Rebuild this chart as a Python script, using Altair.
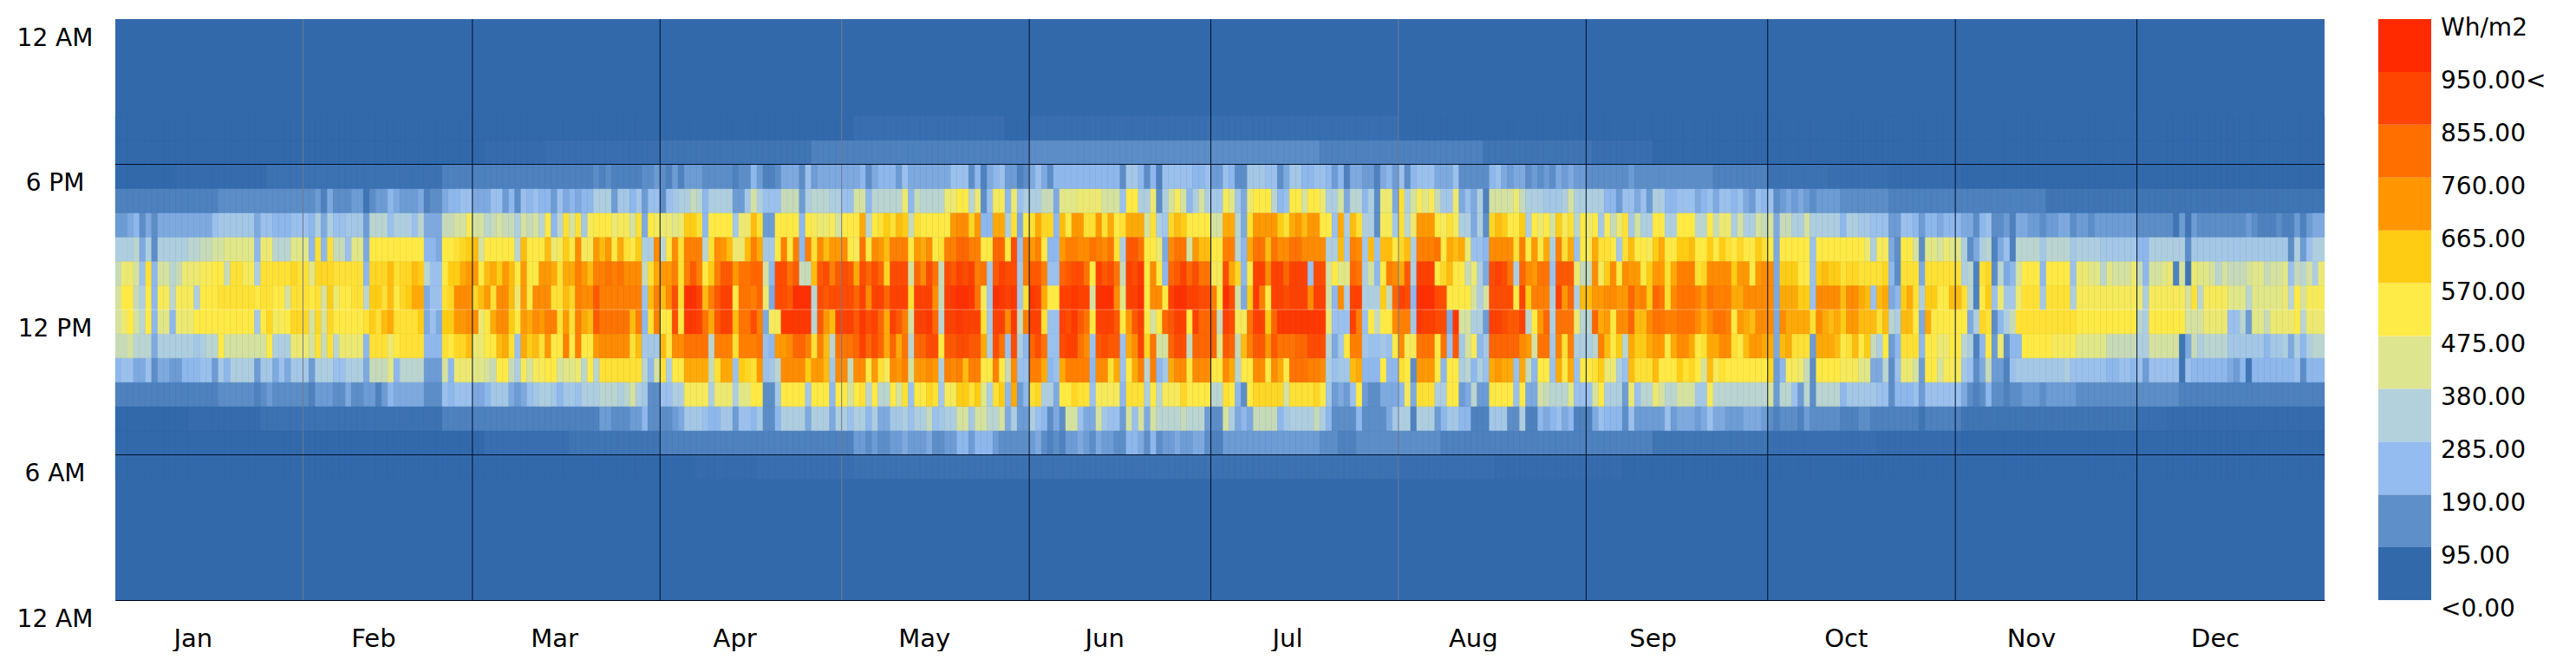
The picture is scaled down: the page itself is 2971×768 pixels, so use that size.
import json
import altair as alt
import pandas as pd

# Irradiance rows, one day per character, six runs of days
# (61, 61, 61, 61, 61, 60). Each character is a base-36 reading in steps of 30 Wh/m2;
# . : - are the faint readings below the first step.
STEP = 30
FAINT = {".": 8, ":": 15, "-": 22}
RUNS = [61, 61, 61, 61, 61, 60]

h19 = ["0"*61, "0"*61, ":"*25+"0"*4+":"*32, ":"*29+"0"*32, "0"*61, "0"*60]
h18 = ["0"*61, "."*10+":"*19+"1"*25+"2"*7, "2"*29+"3"*32, "3"*16+"2"*27+"1"*18, ":"*10+"0"*51, "0"*60]
h17 = ["0"*10+"."*15+"-"*29+"2"*7,
 "2"*18+"3 2 3 22222 33 4 3 2 4 2 4 44 333 33 2 33 6 4 2 2 3 555 3 7 4 5555 55",
 "5 6 3 5 666 4 7 5555 55 5 777 3 6 2 5 6 7 44 2 3 5 7 5 3 6 6666666 666 3 88 6 3 6 2 77777 66 7 44",
 "7 6 33 888 77 3 5 88 66 77 6 4 6 2 55 44 2 5 6 4 7 3 6 777 555 7 33333 6 7 5 4 55 3 4 3 4 3 5 4 5 44 3",
 "333333 4 3333333333333 222222222 "+"-"*10+":"*10+"."*12, "0"*60]
h16 = ["2"*17+"333333333 3333333 4 2 5 333 44 1 3 44 6 5 444 5 2 33 5 66 77 55",
 "5 77 4 6 3 7 6 7 66 4 7 5 6 5 66 999 4 88 6 8 4 77 3 7 8 9 9 b a 6 9999 44 8 c 9 777 bbb 4 9 aa a 99 77",
 "cc 6 aaaaa e 6 b aaaa ee gg a e 3 7 ff 6 e 7 9 99 bb 5 ddd eeee ccc 7 gg 99 e 3 9 c f c 6 9 c 9 88",
 "f d 8 5 e ggg a 6 7 gg c gg e 99 c 5 aa 6 9 3 e e 5 h 9 c f d f b 88 e 5 7 5 9 2 cccc e b 999 888 9 c 99 9",
 "99 66 4 77 5 7 4 99 66 777 5 6 7 5 77 6 7 5 4 7 6 7 3 4 5 4 5 4 3 4444 3 33 33 3 33 "+"2"*12,
 "2"*14+"1"*46]
h15 = ["44 5 6 3 5 3 555555555 7888888 5 77 666 777 6 9 5 9 77 888 4 aaa 7 999 7 a 55 5 bb cc f cc",
 "a b c bb 9 c b c a g 6 a h c h 8 f ggg e ff c h 5 g f ee d e j j h 6 gggg 8 ee k h 44 g ggg 6 g f ee f c gg",
 "g l a g h j h k j b h ggggg m nn i m 66 ll 9 h 5 g h l i i 6 k g mm hh m h l g h l ll c h 9 8 i k j gg g g cc",
 "l l a 5 h mmmm j h l m k mm gg 7 l 9 k h 99 3 ff 8 h a e mmm g f h f 99 5 9 3 i k j gg j 9 g e g c j f h a g e",
 "g 8 f b e h 8 c 99 gg 99 ggg aa g b ee 9 c 99 c b c 5 bb 99 c 99999 6 99 88 777 44 77 6 4 66 5 666",
 "5 5 3 6 7 33 4 2 55 44 3 4455 3 44 3 4 44444 4 333333 1 4 1 4 3333 3 333 4 3 222 3 22 4 2 4 55"]
h14 = ["999a 5 9 3 99999 aabb ccddddd 6 ee aaa ddd 6 h 6 h bb 7 dd 5 gggg ggggg 66 5 ggh i j k c",
 "ggggg a k ggg k e f j g n ff m k m g l h g j 99 n a g n h ooo a h n m k e e k o l 8 8 g o g o 6 o h n k mm n g",
 "f p g n m k ooo g m l n g h oo qq oo gg qq g s 7 o m o g 66 m oo nn p o n p h 9 rr p gg e 5 n pp c m kk gg",
 "oo a 6 l pp k p nn pp nnnn 99 k 8 o n 8 k 7 kk g i k 9 ooo p g l k l e 77 6 nnnn h o g m g l 9 o h l 7 gf",
 "l hh g 8 h k gg f j l gg jj k gg j g j h g i gg j h g 5 ggggg 7 gggg gggg e 9 ff 5 3 gg c 3 dd c e dd",
 "9 3 5 9 a 2 5 7 2 aa aa 8 aaaa 8 9999 888888 66 99999 9 3 8 888 888 88 888 88 8 8 3 9 4 7 99"]
h13 = ["bee c 7 h 6 cc a b e ee ff gg b hh ff 9 hhhh hih h d iii hhhhh 6 iii k h ii k j a 77 g j j lm m g",
 "k l j m k g m gg mm l h ll o m k oo p o p nnn b h l mm o h o r o g j o rr m pp qq c 6 ss p r bb k r s o r s r",
 "l s q s q i sss c q n s p b s r t s t o p 8 r t ss 8 o rr o 77 q r ss p g t r s p b t s u g n g 6 q r t q s pp ff",
 "s l i 6 g tt n tt q ttt 7 ss c g dd q p 9 c 6 g o n l r 9 ttt g i k gg b e 9 5 s t s p 9 q n m pp 7 rrr e bb",
 "n f j n g n mm g j mm h l ooo h i nnnn j mm g m nn 5 jjj gg 7 j k j j h ii h hh h i 6 3 hhh 5 hhhhhh",
 "9 a 2 h i 3 a 5 6 c ggg 6 gggg 7 ee dd a d ccc e b 6 cc d e 2 c 1 e dd c a c bbb c dd b cc d 7 b a c 9 e"]
h12 = ["cgg b 9 g 6 ff a fff 9 ggg hh hhhh g hh gg c hhh g h c j e gg hh a jj h k g ij ll 5 77 h i nnn i k",
 "m h nn k e m g nnn h h k i o nn r ooooooo 7 k o k n s h vv t k o r tt g pp o q e 5 ss r vvv a s r ss ss",
 "q t n tt q ttt h ttt n b t u vv u p f 8 v u t u 8 h u t l gg t t u tt c vvv n d tt v g nn g t vv t t ss o g",
 "v s c 5 j u o g tt s ttt n tt c 6 n 9 tt 999 j b q t s 6 vvv ss gggg c 9 c s sss g t j ooo 9 t m q 9 kk",
 "m m nn mm q n o j q p h n ppp o m p ooo ll nnn n n 5 lll jj 7 nnnn k nn l k 7 k l 5 6 j l h 9 jj gg kk",
 "h a 2 g j 7 e 88 e hhh 8 hhhh 9 ffffffffff e 9 fffff f c h a fff f ddd a ddddd e a g c fff"]
h11 = ["ceg c a g 6 dd 6 eee gggggggggg 8 g i ff g iii c i c i ggggg h j h k l hhhh j 5 7 5 jj mm nn e",
 "g l nn j g m l n m oo h m h o l k r pp ppp k o 6 h o gg s g uu t p l r tt k pp s o 5 ff uuuuu a r m k ttt",
 "r u s t q l t r o c tt u q a tt u ttt h 8 tt n u b o tt h 77 t s u r p g ttt r g m r t g c g q r tt g t qqq b",
 "t s ff p tt j q uuuuuuu u e 777 t o 7 g b gg n oo 8 u tt ss 5 u cc 9 9 4 tt s rr t a g m q 9 ppp e aa",
 "q l m g nn q kk n pp oo ppp n l n pp o g m l k nn n 5 n llll h n l k l j mm kkk h k a 9 kk g 5 l ggggg",
 "g 5 9 i h 3 6 9 b hhhh hhhhhh gggggggggg a 9 gggggg ccc eee e 77 a 4 dd b eee e g a eee"]
h10 = ["bbcaaa5 999999 89a a g ccccccc g 999 eee c h b h a eeee 6 hhh e g hhhh 666 h g ii k ee",
 "gg k l h 7 l j k h m gg o g o gg m nnnnn h k 888 k g nn pppp a ooo h ooo p 7 6 mm n qq o h o k a ppp",
 "q t q s q l q l p a qq ss g rr ss rr l 9 s p 7 s 9 6 q s p 77 s tt p n 7 r s rr 7 l n t i p cc q ss b qqqq d",
 "r q b k o rr m r ppp qq sss a 5 8 g oo 8 77 8 7 g n ff ppp g p 7 r 8 c f 6 8 qqqqq n m c pp 8 o h o 99 9",
 "a o k g j a l jj l mm g l nn l g h ll nn h g k mm l l 5 k l hhh 4 lll k g h k g j b 9 g 4 6 hhh 6 gg ee gg",
 "a 9 2 6 g 4 e 3 6 6 ggggg ffff ddddd bbbbb 99 ccccc 1 5 b 9 aaa a 888 8 88 6 8 8 9 5 9 6 9 aa"]
h09 = ["6 77 55 7 3 55 44 666 77 4 8 6 9999 4 88 5 7 5 888 4 999 77 999 5 bbb d 6 aaaa 444 c 6 eee dd",
 "c b gg b 9 f c ff gg c dd e a g a hhhhhhh a 6 c h 9 gg llll b h ll 7 j i h m 7 8 a nnnn j mm k 8 nn b",
 "nn g m h f n m o c mm n m 9 o n o k oo gg o g b n 77 oo l 6 7 l oooo 6 nn h l 7 g l o a o 6 8 l nn g nnn gg",
 "n l a gg nn g n l g ppp oo n 9 7 88 k l 666 g 66 h g 3 mmm g 6 gg 9 a 6 9 7 l m ll 7 l b 6 gg 7 l g l 7 gg",
 "hj ee 9 7 k hhh k ggg j h i g c k f h ggg gg gg i 4 6 ff e b 3 gggg f ff dd 55 a 3 7 ee c 4 gg c fff",
 "8 7 3 5 b 44 2 7 888888 88 9 77777 7 66 7 7 6 7 4 7777 7 1 7 6 6666 6 5 4 6 1 6666 666 7 3 666"]
h08 = ["2"*17+"333333 2 3 4 333333 2 444 33 5 33 44 2 4 6 5555 5 333 7 6 777 55",
 "6 888 5 4 5 7 8 99 8 6 88 7 99 9 aa a 9 a c 9 8 33 77 99 ffff 9 eee 9 dd gg 3 3 8 gggg 8 ggg 6 gg c",
 "g h a g aa g c h 7 gg i h 8 ff j j h j d 9 h j 6 l 4 6 h i 99 5 gg i hh 7 ffff 6 hhh 9 g a fff i gggg aa",
 "h g 6 3 g iiiii c hhhh i g 8 4 5 4 7 g 4 33 555 6 f 5 hhh 99 gg 4 5 a 44 gggg 7 g 55 c b aaa d 77 7",
 "c g 999 4 e 7 aa e c aa cc c 88 f a aaaaaaaa c 4 aa 7 4 a 3 aaaa 6 88888 77 3 666 7 4 777 777",
 "5 3 2 3 6 3 3 2 3 3 444 3 44444 "+"3"*17+"2"*24]
h07 = ["0"*12+"."*12+"-"*30+"2"*7,
 "2"*19+"44 333 44 6 33 33 4 5 888 7 66 88 4 77 6 8 33 6 9999 5 999 5 99 7",
 "99 6 9 55 88 9 7 99 b 7 8 99 cc 8 cc aa c 5 9 44 9 7 6 3 5 3 cc 7 5 5 c 8 77 4 c 7 c 5 c aaaa b aaa 4 33",
 "c 9 5 6 5 bbbb 6 8 99 99 b 9 6 3333 6 3333 5 8 9 9 2 999 4 6 88 66 222 888 33 9 22 6 5 6 7 5 6 22 2",
 "5 7 666 3 7 4 4 444 7 4 5 55 4 5 7 55 4 44 55 5 4 3 2 3 33 2 4 3 3333 222 33 222 22222 1 222222",
 "1"*29+":"*5+"."*26]
h06 = ["0"*61, ":"*14+"1"*15+"2"*32,
 "44 3 4 33 44 5 444 5 33 44 66 4 666 4 3 33 33 4 5 3 2 3 2 44 5 4 3 5 44 33 66 5 3 6 3 44 5 44 55 3 22",
 "4"*16+"3"*3+"2"*3+"3"*14+"2"*25, "2"*10+"1"*19+":"*18+"."*14, "0"*60]
h05 = ["0"*61, "0"*35+"."*10+":"*16, "-"*61, "-"*29+":"*16+"."*16, "."*5+"0"*56, "0"*60]

rows = {5: h05, 6: h06, 7: h07, 8: h08, 9: h09, 10: h10, 11: h11, 12: h12,
        13: h13, 14: h14, 15: h15, 16: h16, 17: h17, 18: h18, 19: h19}

records = []
for hour, segments in rows.items():
    day = 0
    for seg, n in zip(segments, RUNS):
        s = seg.replace(" ", "")
        s = (s + s[-1] * n)[:n]
        for i, ch in enumerate(s):
            value = FAINT[ch] if ch in FAINT else int(ch, 36) * STEP
            records.append({"d": day + i, "d2": day + i + 1, "h": hour, "h2": hour + 1, "v": value})
        day += n
cells = pd.DataFrame(records)

legend_stops = [0, 95, 190, 285, 380, 475, 570, 665, 760, 855, 950]
legend_colors = ["#3269AB", "#5F8FC8", "#94BCF0", "#B3D1DC", "#DEE58F", "#FFEB47",
                 "#FFCC14", "#FF9500", "#FF6F00", "#FF4500", "#FF2A00"]
legend_labels = ["<0.00", "95.00", "190.00", "285.00", "380.00", "475.00", "570.00",
                 "665.00", "760.00", "855.00", "950.00<", "Wh/m2"]

month_names = ["Jan", "Feb", "Mar", "Apr", "May", "Jun", "Jul", "Aug", "Sep", "Oct", "Nov", "Dec"]
month_label_days = [12.8, 42.6, 72.5, 102.3, 133.6, 163.4, 193.6, 224.3, 254.0, 285.9, 316.5, 346.9]
dark_month_edges = [59, 90, 151, 181, 243, 273, 304, 334]
faint_month_edges = [31, 120, 212]
hour_ticks = [0, 6, 12, 18, 24]
hour_labels = ["12 AM", "6 AM", "12 PM", "6 PM", "12 AM"]
dark_hour_lines = [6, 18]
faint_hour_lines = [12]

FONT = "DejaVu Sans"
color_scale = alt.Scale(domain=legend_stops, range=legend_colors, clamp=True, interpolate="rgb")
x_scale = alt.Scale(domain=[0, 365], nice=False, zero=False)
y_scale = alt.Scale(domain=[0, 24], nice=False, zero=True)

x_axis = alt.Axis(values=month_label_days, title=None, grid=False, ticks=False, labelFont=FONT,
                  labelFontSize=29, labelColor="#000", labelBaseline="middle", labelPadding=44,
                  labelOverlap=False, labelBound=False, labelFlush=False,
                  domainColor="#000020", domainWidth=1,
                  labelExpr=f"{json.dumps(month_names)}[indexof({json.dumps(month_label_days)}, datum.value)]")
y_axis = alt.Axis(values=hour_ticks, title=None, grid=False, ticks=False, labelFont=FONT,
                  labelFontSize=28, labelColor="#000", labelAlign="center", labelBaseline="middle",
                  labelPadding=70, labelOffset=22, labelOverlap=False, labelBound=False, labelFlush=False,
                  domainColor="#000020", domainWidth=1,
                  labelExpr=f"{json.dumps(hour_labels)}[indexof({json.dumps(hour_ticks)}, datum.value)]")

base_bg = alt.Chart(pd.DataFrame({"d": [0], "d2": [365], "h": [0], "h2": [24], "v": [0]})).mark_rect().encode(
    x=alt.X("d:Q", scale=x_scale, axis=x_axis),
    x2="d2:Q",
    y=alt.Y("h:Q", scale=y_scale, axis=y_axis),
    y2="h2:Q",
    color=alt.Color("v:Q", scale=color_scale, legend=None),
)
heat = alt.Chart(cells).mark_rect(strokeWidth=0.4).encode(
    x=alt.X("d:Q", scale=x_scale),
    x2="d2:Q",
    y=alt.Y("h:Q", scale=y_scale),
    y2="h2:Q",
    color=alt.Color("v:Q", scale=color_scale, legend=None),
    stroke=alt.Stroke("v:Q", scale=color_scale, legend=None),
)

def vrules(days, color):
    return alt.Chart(pd.DataFrame({"d": days})).mark_rule(color=color, strokeWidth=1).encode(
        x=alt.X("d:Q", scale=x_scale))

def hrules(hours, color, opacity=1.0):
    return alt.Chart(pd.DataFrame({"h": hours})).mark_rule(color=color, strokeWidth=1, opacity=opacity).encode(
        y=alt.Y("h:Q", scale=y_scale))

main = alt.layer(
    base_bg, heat,
    hrules(faint_hour_lines, "#ffffff", 0.35),
    vrules(faint_month_edges, "#6f7a90"),
    vrules(dark_month_edges, "#00102a"),
    hrules(dark_hour_lines, "#00102a"),
).properties(width=2548, height=670)

leg_scale = alt.Scale(domain=[0, 11], nice=False, zero=True)
leg_rects = pd.DataFrame({"i": list(range(11)), "i2": list(range(1, 12)), "v": legend_stops})
leg_text = pd.DataFrame({"i": list(range(12)), "t": legend_labels})
leg_bar = alt.Chart(leg_rects).mark_rect().encode(
    x=alt.value(0), x2=alt.value(61),
    y=alt.Y("i:Q", scale=leg_scale, axis=None),
    y2="i2:Q",
    color=alt.Color("v:Q", scale=color_scale, legend=None),
)
leg_lab = alt.Chart(leg_text).mark_text(font=FONT, fontSize=28, align="left", baseline="middle", dy=11, color="#000").encode(
    x=alt.value(72),
    y=alt.Y("i:Q", scale=leg_scale, axis=None),
    text="t:N",
)
legend = alt.layer(leg_bar, leg_lab).properties(width=200, height=670)

chart = alt.hconcat(main, legend, spacing=61).properties(
    padding={"left": 11, "top": 11, "right": 0, "bottom": 0},
    background="white",
).configure_view(strokeWidth=0)

chart.save("out.html", embed_options={"renderer": "svg", "actions": False})
